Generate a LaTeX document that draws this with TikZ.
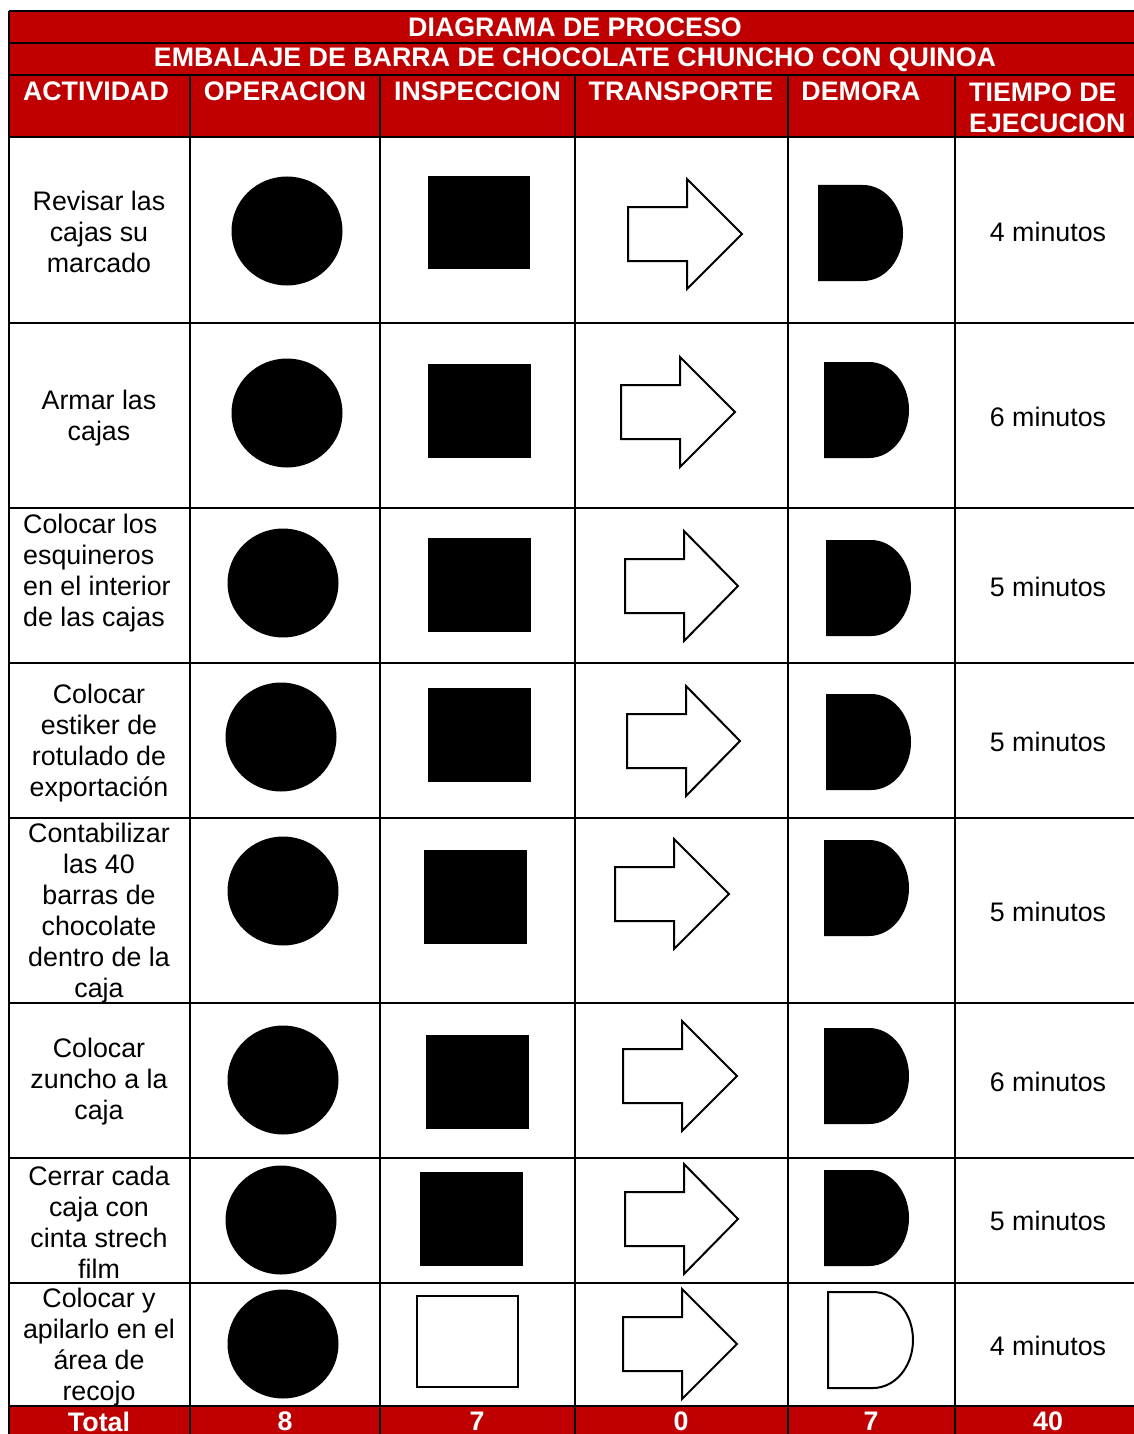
\documentclass[tikz,border=0pt]{standalone}
\usepackage{fontspec}
\setmainfont{Liberation Sans}
\definecolor{hdrred}{HTML}{C00000}
\newcommand\opcirc[2]{\fill (#1,#2) ellipse [x radius=55.5pt, y radius=54.5pt];}
\newcommand\insq[4]{\fill (#1,#2) rectangle (#3,#4);}
\newcommand\trarrow[4]{\draw[shapeline] (#1,#4-27) -- (#2,#4-27) -- (#2,#4-55) -- (#3,#4) -- (#2,#4+55) -- (#2,#4+27) -- (#1,#4+27) -- cycle;}
\newcommand\dshape[4]{\path[#4] (#1,#2) -- (#1+45,#2) arc[start angle=90, end angle=-90, x radius=40pt, y radius=48pt] -- (#1,#3) -- cycle;}
\begin{document}
\begin{tikzpicture}[x=1pt,y=-1pt,
  grid/.style={line width=2.5pt, black},
  shapeline/.style={draw, line width=2pt, black, fill=white, line join=miter},
  body/.style={font=\fontsize{26.8}{31}\selectfont, align=center, inner sep=0pt, text=black},
  bodyl/.style={font=\fontsize{26.8}{31}\selectfont, align=left, inner sep=0pt, text=black, anchor=west},
  hdr/.style={font=\fontsize{26.8}{31}\selectfont\bfseries, text=white, inner sep=0pt, align=center},
  hdrl/.style={font=\fontsize{26.8}{31}\selectfont\bfseries, text=white, inner sep=0pt, align=left, anchor=west}]
\useasboundingbox (0,0) rectangle (1134,1434);
% red bands
\fill[hdrred] (9,11) rectangle (1134,137);
\fill[hdrred] (9,1406) rectangle (1134,1434);
% grid
\foreach \yy in {11,43,75,137,323,508,663,818,1003,1158,1283,1406}
  \draw[grid] (9,\yy) -- (1134,\yy);
\draw[grid] (9,11) -- (9,1434);
\foreach \xx in {190,380,575,788,955}
  \draw[grid] (\xx,75) -- (\xx,1434);
% titles
\node[hdr] (title) at (575,27.5) {DIAGRAMA DE PROCESO};
\node[hdr] (subtitle) at (575,59.5) {EMBALAJE DE BARRA DE CHOCOLATE CHUNCHO CON QUINOA};
\node[hdr] (hact) at (96,91.5) {ACTIVIDAD};
\node[hdr] (hop) at (285,91.5) {OPERACION};
\node[hdr] (hins) at (477.5,91.5) {INSPECCION};
\node[hdr] (htra) at (681,91.5) {TRANSPORTE};
\node[hdr] (hdem) at (861,91.5) {DEMORA};
\node[hdrl] (htie) at (969,107.5) {TIEMPO DE\\EJECUCION};
% activities
\node[body] (a1) at (99,232) {Revisar las\\cajas su\\marcado};
\node[body] (a2) at (99,418) {Armar las\\cajas};
\node[bodyl] (a3) at (23,573) {Colocar los\\esquineros\\en el interior\\de las cajas};
\node[body] (a4) at (99,743) {Colocar\\estiker de\\rotulado de\\exportación};
\node[body] (a5) at (99,913) {Contabilizar\\las 40\\barras de\\chocolate\\dentro de la\\caja};
\node[body] (a6) at (99,1082) {Colocar\\zuncho a la\\caja};
\node[body] (a7) at (99,1222) {Cerrar cada\\caja con\\cinta strech\\film};
\node[body] (a8) at (99,1347) {Colocar y\\apilarlo en el\\área de\\recojo};
% times
\node[body] (t1) at (1048,231.5) {4 minutos};
\node[body] (t2) at (1048,416.5) {6 minutos};
\node[body] (t3) at (1048,586.5) {5 minutos};
\node[body] (t4) at (1048,741.5) {5 minutos};
\node[body] (t5) at (1048,911.5) {5 minutos};
\node[body] (t6) at (1048,1081.5) {6 minutos};
\node[body] (t7) at (1048,1220.5) {5 minutos};
\node[body] (t8) at (1048,1345.5) {4 minutos};
% totals
\node[hdr] (tot) at (99,1421.5) {Total};
\node[hdr] (tot1) at (285,1421.5) {8};
\node[hdr] (tot2) at (477,1421.5) {7};
\node[hdr] (tot3) at (681,1421.5) {0};
\node[hdr] (tot4) at (871,1421.5) {7};
\node[hdr] (tot5) at (1048,1421.5) {40};
% operation circles
\opcirc{287}{231}
\opcirc{287}{413}
\opcirc{283}{583}
\opcirc{281}{737}
\opcirc{283}{891}
\opcirc{283}{1080}
\opcirc{281}{1220}
\opcirc{283}{1344}
% inspection squares
\insq{428}{176}{530}{269}
\insq{428}{364}{531}{458}
\insq{428}{538}{531}{632}
\insq{428}{688}{531}{782}
\insq{424}{850}{527}{944}
\insq{426}{1035}{529}{1129}
\insq{420}{1172}{523}{1266}
\draw[shapeline] (417,1296) rectangle (518,1387);
% transport arrows
\trarrow{628}{687}{742}{234}
\trarrow{621}{680}{735}{412}
\trarrow{625}{684}{738}{586}
\trarrow{627}{686}{740}{741}
\trarrow{615}{674}{729}{894}
\trarrow{623}{682}{737}{1076}
\trarrow{625}{684}{738}{1219}
\trarrow{623}{682}{737}{1344}
% delay D shapes
\dshape{818}{185}{281}{fill=black}
\dshape{824}{362}{458}{fill=black}
\dshape{826}{540}{636}{fill=black}
\dshape{826}{694}{790}{fill=black}
\dshape{824}{840}{936}{fill=black}
\dshape{824}{1028}{1124}{fill=black}
\dshape{824}{1170}{1266}{fill=black}
\dshape{828}{1292}{1388}{shapeline}
\end{tikzpicture}
\end{document}
